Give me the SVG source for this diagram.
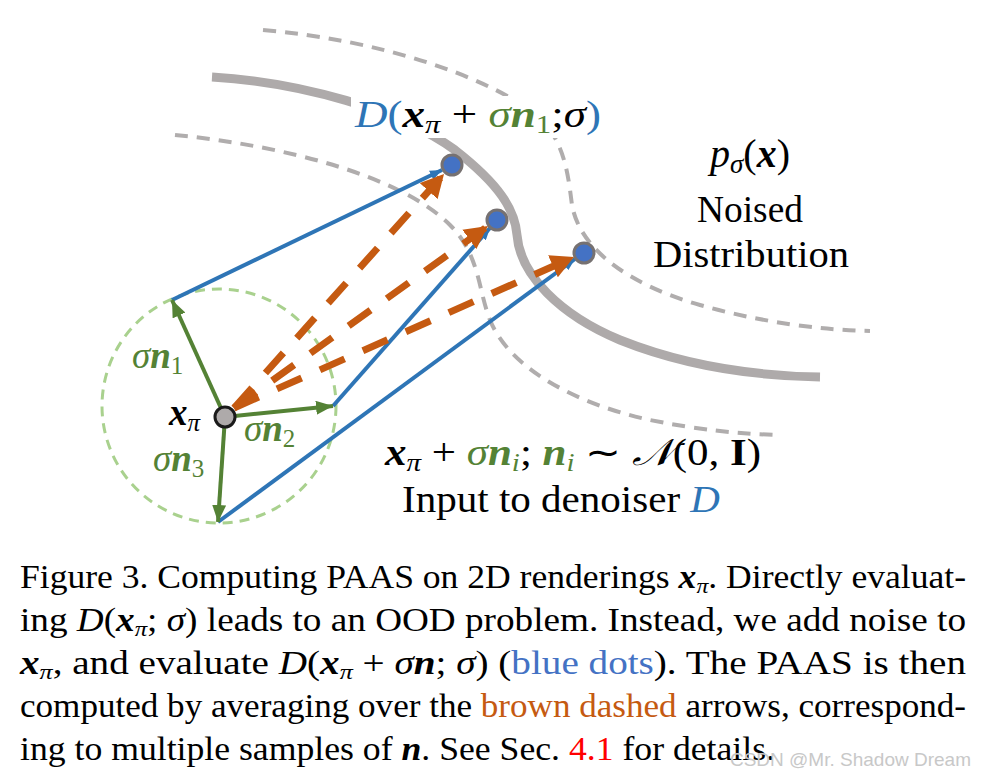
<svg xmlns="http://www.w3.org/2000/svg" width="987" height="776" viewBox="0 0 987 776">
<style>
.t{font-family:"Liberation Serif","Times New Roman",serif;fill:#000}
.i{font-style:italic}
.b{font-weight:bold;font-style:italic}
.g{fill:#548235}
.bl{fill:#2E75B6}
.gray-solid{fill:none;stroke:#AEAAAA;stroke-width:9}
.gray-dash{fill:none;stroke:#B0ADAD;stroke-width:4;stroke-dasharray:13 9}
.blue{stroke:#2E75B6;stroke-width:4;fill:none}
.orange{stroke:#C55A11;stroke-width:7;fill:none;stroke-dasharray:27 20}
.green{stroke:#548235;stroke-width:4;fill:none}
.dot{fill:#4472C4;stroke:#767171;stroke-width:3}
</style>
<defs>
<marker id="ag" markerUnits="userSpaceOnUse" markerWidth="18" markerHeight="14" refX="17" refY="7" orient="auto"><path d="M0,0 L17,7 L0,14 z" fill="#548235"/></marker>
<marker id="ab" markerUnits="userSpaceOnUse" markerWidth="12" markerHeight="10" refX="12" refY="5" orient="auto"><path d="M0,0 L12,5 L0,10 z" fill="#2E75B6"/></marker>
<marker id="ao" markerUnits="userSpaceOnUse" markerWidth="24" markerHeight="24" refX="23" refY="12" orient="auto"><path d="M0,0 L23,12 L0,24 z" fill="#C55A11"/></marker>
</defs>

<g id="background-curves">
<path class="gray-dash" d="M263,30 C380,40 480,75 530,110 C565,135 568,175 572,205 C580,250 630,285 700,305 C760,322 820,330 870,331"/>
<path class="gray-solid" d="M212,77 C300,82 400,110 455,150 C500,185 515,210 517,235 C520,275 560,315 620,340 C690,368 760,376 820,377"/>
<path class="gray-dash" d="M175,135 C280,145 400,175 450,225 C480,255 478,290 490,320 C510,370 580,405 650,420 C700,430 740,434 780,435"/>
<circle cx="219" cy="406" r="117" fill="none" stroke="#A9D18E" stroke-width="3" stroke-dasharray="10 7"/>
</g>

<g id="connectors">
<line class="blue" x1="172" y1="300" x2="442" y2="170" marker-end="url(#ab)"/>
<line class="blue" x1="333" y1="406" x2="490" y2="228" marker-end="url(#ab)"/>
<line class="blue" x1="218" y1="522" x2="575" y2="259" marker-end="url(#ab)"/>
<line class="orange" x1="234" y1="408" x2="444" y2="174" marker-end="url(#ao)"/>
<line class="orange" x1="234" y1="408" x2="488" y2="226" marker-end="url(#ao)"/>
<line class="orange" x1="234" y1="408" x2="574" y2="257" marker-end="url(#ao)"/>
<line class="green" x1="225" y1="417" x2="172" y2="300" marker-end="url(#ag)"/>
<line class="green" x1="225" y1="417" x2="333" y2="406" marker-end="url(#ag)"/>
<line class="green" x1="225" y1="417" x2="218" y2="522" marker-end="url(#ag)"/>
</g>

<g id="node-xpi">
<circle cx="225" cy="417" r="10" fill="#AEAAAA" stroke="#1a1a1a" stroke-width="3"/>
<text class="t" x="169" y="425" font-size="37"><tspan class="b">x</tspan><tspan class="i" font-size="25" dy="6">π</tspan></text>
</g>

<g id="dot-1"><circle class="dot" cx="452" cy="165" r="10"/></g>
<g id="dot-2"><circle class="dot" cx="497" cy="220" r="10"/></g>
<g id="dot-3"><circle class="dot" cx="584" cy="253" r="10"/></g>

<g id="label-n1"><text class="t g" x="132" y="368" font-size="37"><tspan class="i">σ</tspan><tspan class="b">n</tspan><tspan font-size="25" dy="6">1</tspan></text></g>
<g id="label-n2"><text class="t g" x="244" y="441" font-size="37"><tspan class="i">σ</tspan><tspan class="b">n</tspan><tspan font-size="25" dy="6">2</tspan></text></g>
<g id="label-n3"><text class="t g" x="153" y="471" font-size="37"><tspan class="i">σ</tspan><tspan class="b">n</tspan><tspan font-size="25" dy="6">3</tspan></text></g>

<g id="label-D">
<rect x="351" y="96" width="254" height="42" fill="#fff"/>
<text class="t" x="355" y="127" font-size="38" textLength="246" lengthAdjust="spacingAndGlyphs"><tspan class="i bl">D</tspan><tspan class="bl">(</tspan><tspan class="b">x</tspan><tspan class="i" font-size="26" dy="6">π</tspan><tspan dy="-6"> + </tspan><tspan class="i g">σ</tspan><tspan class="b g">n</tspan><tspan class="g" font-size="26" dy="6">1</tspan><tspan dy="-6">;</tspan><tspan class="i">σ</tspan><tspan class="bl">)</tspan></text>
</g>

<g id="label-distribution">
<text class="t" x="750" y="167" font-size="40" text-anchor="middle"><tspan class="i">p</tspan><tspan class="i" font-size="27" dy="6">σ</tspan><tspan dy="-6">(</tspan><tspan class="b">x</tspan><tspan>)</tspan></text>
<text class="t" x="750" y="222" font-size="38" text-anchor="middle" textLength="106" lengthAdjust="spacingAndGlyphs">Noised</text>
<text class="t" x="751" y="267" font-size="38" text-anchor="middle" textLength="196" lengthAdjust="spacingAndGlyphs">Distribution</text>
</g>

<g id="label-input">
<text class="t" x="385" y="465" font-size="37" textLength="376" lengthAdjust="spacingAndGlyphs"><tspan class="b">x</tspan><tspan class="i" font-size="25" dy="6">π</tspan><tspan dy="-6"> + </tspan><tspan class="i g">σ</tspan><tspan class="b g">n</tspan><tspan class="i g" font-size="25" dy="6">i</tspan><tspan dy="-6">; </tspan><tspan class="b g">n</tspan><tspan class="i g" font-size="25" dy="6">i</tspan><tspan dy="-6"> ∼ </tspan><tspan class="i">𝒩</tspan><tspan>(0,</tspan><tspan font-weight="bold"> I</tspan><tspan>)</tspan></text>
<text class="t" x="402" y="512" font-size="37" textLength="318" lengthAdjust="spacingAndGlyphs">Input to denoiser <tspan class="i bl">D</tspan></text>
</g>

<g id="caption">
<text class="t" x="20" y="588" font-size="33" textLength="946" lengthAdjust="spacingAndGlyphs">Figure 3. Computing PAAS on 2D renderings <tspan class="b">x</tspan><tspan class="i" font-size="22" dy="5">π</tspan><tspan dy="-5">. Directly evaluat-</tspan></text>
<text class="t" x="20" y="631" font-size="33" textLength="946" lengthAdjust="spacingAndGlyphs">ing <tspan class="i">D</tspan>(<tspan class="b">x</tspan><tspan class="i" font-size="22" dy="5">π</tspan><tspan dy="-5">; </tspan><tspan class="i">σ</tspan>) leads to an OOD problem. Instead, we add noise to</text>
<text class="t" x="20" y="674" font-size="33" textLength="946" lengthAdjust="spacingAndGlyphs"><tspan class="b">x</tspan><tspan class="i" font-size="22" dy="5">π</tspan><tspan dy="-5">, and evaluate </tspan><tspan class="i">D</tspan>(<tspan class="b">x</tspan><tspan class="i" font-size="22" dy="5">π</tspan><tspan dy="-5"> + </tspan><tspan class="i">σ</tspan><tspan class="b">n</tspan>; <tspan class="i">σ</tspan>) (<tspan fill="#4472C4">blue dots</tspan>). The PAAS is then</text>
<text class="t" x="20" y="717" font-size="33" textLength="946" lengthAdjust="spacingAndGlyphs">computed by averaging over the <tspan fill="#C55A11">brown dashed</tspan> arrows, correspond-</text>
<text class="t" x="20" y="760" font-size="33" textLength="755" lengthAdjust="spacingAndGlyphs">ing to multiple samples of <tspan class="b">n</tspan>. See Sec. <tspan fill="#FF0000">4.1</tspan> for details.</text>
</g>

<g id="watermark">
<text x="971" y="766" font-family="'Liberation Sans',Arial,sans-serif" font-size="19" fill="#C8C8C8" text-anchor="end">CSDN @Mr. Shadow Dream</text>
</g>
</svg>
